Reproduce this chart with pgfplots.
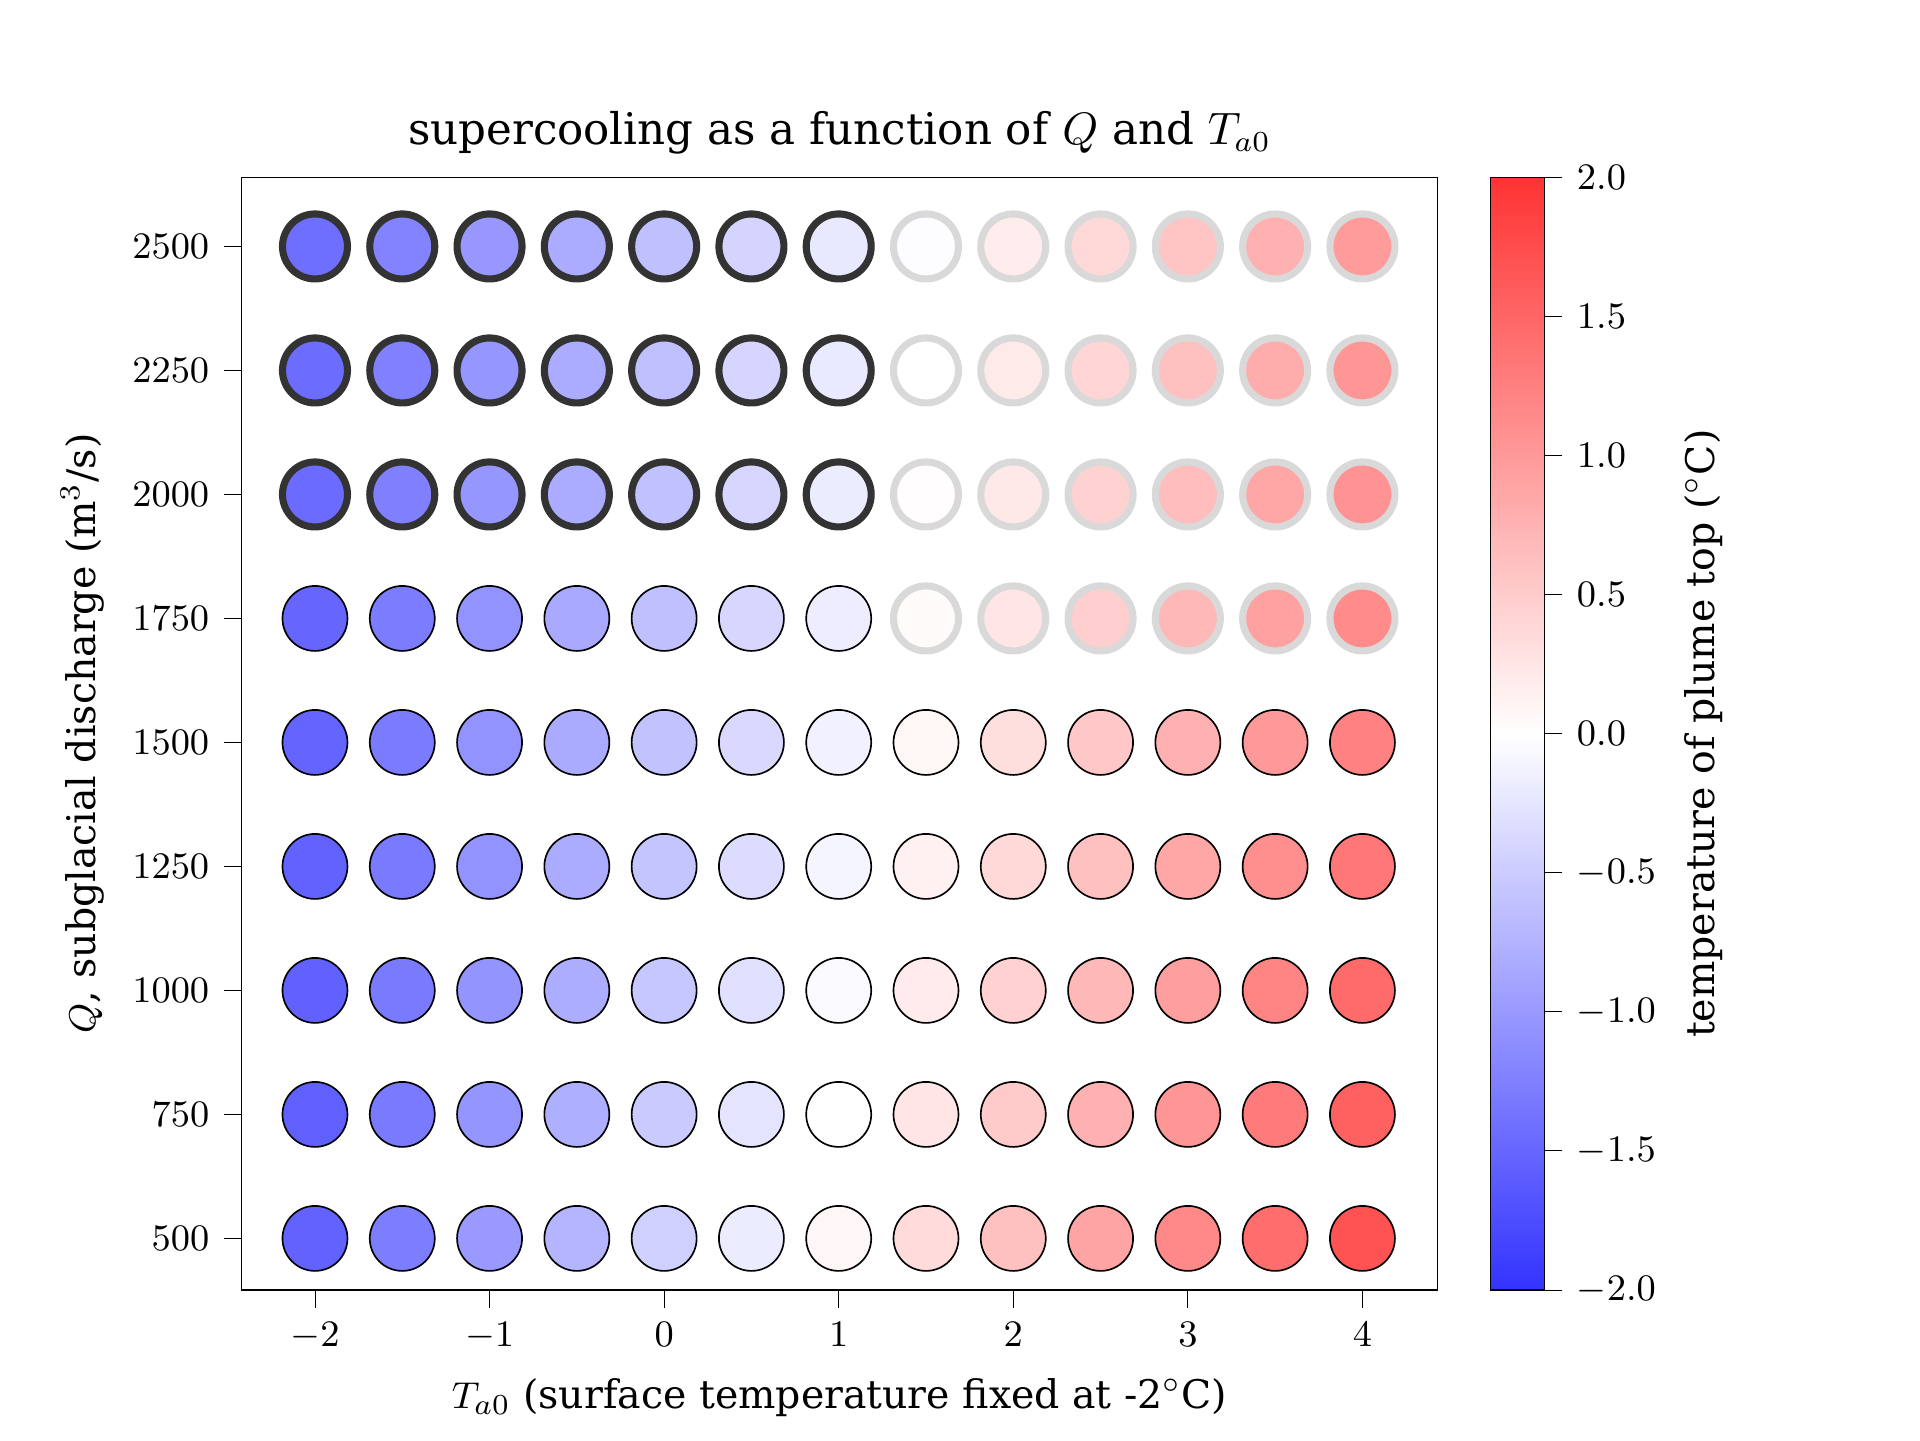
\documentclass[border=0pt]{standalone}
\usepackage{fontspec}
\setmainfont{DejaVu Serif}
\usepackage{pgfplots}
\pgfplotsset{compat=1.18}
\usepackage{pgfplotstable}
\pgfplotstableread{
x y v
-2 500 -1.54
-1.5 500 -1.27
-1 500 -1.00
-0.5 500 -0.73
0 500 -0.46
0.5 500 -0.19
1 500 0.08
1.5 500 0.35
2 500 0.62
2.5 500 0.89
3 500 1.16
3.5 500 1.43
4 500 1.70
-2 750 -1.56
-1.5 750 -1.30
-1 750 -1.04
-0.5 750 -0.78
0 750 -0.52
0.5 750 -0.26
1 750 0.00
1.5 750 0.26
2 750 0.52
2.5 750 0.78
3 750 1.04
3.5 750 1.30
4 750 1.56
-2 1000 -1.55
-1.5 1000 -1.30
-1 1000 -1.05
-0.5 1000 -0.80
0 1000 -0.55
0.5 1000 -0.30
1 1000 -0.05
1.5 1000 0.20
2 1000 0.45
2.5 1000 0.70
3 1000 0.95
3.5 1000 1.20
4 1000 1.45
-2 1250 -1.54
-1.5 1250 -1.30
-1 1250 -1.06
-0.5 1250 -0.82
0 1250 -0.58
0.5 1250 -0.34
1 1250 -0.10
1.5 1250 0.14
2 1250 0.38
2.5 1250 0.62
3 1250 0.86
3.5 1250 1.10
4 1250 1.34
-2 1500 -1.52
-1.5 1500 -1.29
-1 1500 -1.06
-0.5 1500 -0.83
0 1500 -0.60
0.5 1500 -0.37
1 1500 -0.14
1.5 1500 0.09
2 1500 0.32
2.5 1500 0.55
3 1500 0.78
3.5 1500 1.01
4 1500 1.24
-2 1750 -1.50
-1.5 1750 -1.28
-1 1750 -1.06
-0.5 1750 -0.84
0 1750 -0.62
0.5 1750 -0.40
1 1750 -0.18
}\plain
\pgfplotstableread{
x y v
-2 2000 -1.45
-1.5 2000 -1.24
-1 2000 -1.03
-0.5 2000 -0.82
0 2000 -0.61
0.5 2000 -0.40
1 2000 -0.19
-2 2250 -1.44
-1.5 2250 -1.23
-1 2250 -1.03
-0.5 2250 -0.82
0 2250 -0.62
0.5 2250 -0.41
1 2250 -0.21
-2 2500 -1.42
-1.5 2500 -1.22
-1 2500 -1.02
-0.5 2500 -0.82
0 2500 -0.62
0.5 2500 -0.42
1 2500 -0.22
}\dark
\pgfplotstableread{
x y v
1.5 1750 0.04
2 1750 0.26
2.5 1750 0.48
3 1750 0.70
3.5 1750 0.92
4 1750 1.14
1.5 2000 0.02
2 2000 0.23
2.5 2000 0.44
3 2000 0.65
3.5 2000 0.86
4 2000 1.07
1.5 2250 0.00
2 2250 0.21
2.5 2250 0.41
3 2250 0.62
3.5 2250 0.82
4 2250 1.03
1.5 2500 -0.02
2 2500 0.18
2.5 2500 0.38
3 2500 0.58
3.5 2500 0.78
4 2500 0.98
}\light
\begin{document}
\begin{tikzpicture}
\path (-58bp,-36bp) rectangle (402.8bp,309.6bp);
\begin{axis}[
  at={(0,0)}, anchor=south west,
  scale only axis, width=287bp, height=267bp,
  xmin=-2.42, xmax=4.43, ymin=396, ymax=2639,
  xtick={-2,-1,0,1,2,3,4},
  ytick={500,750,1000,1250,1500,1750,2000,2250,2500},
  yticklabel style={/pgf/number format/1000 sep={}},
  tick align=outside, tick style={black},
  xtick pos=bottom, ytick pos=left,
  tick label style={font=\fontsize{9.5}{11}\selectfont},
  label style={font=\fontsize{9.5}{11}\selectfont},
  title style={font=\fontsize{10.5}{12}\selectfont, yshift=-4bp},
  title={supercooling as a function of $Q$ and $T_{a0}$},
  xlabel={$T_{a0}$ (surface temperature fixed at -2$^\circ$C)},
  ylabel={$Q$, subglacial discharge (m$^3$/s)},
  colormap={bwra}{rgb=(0.2,0.2,1) rgb=(1,1,1) rgb=(1,0.2,0.2)},
  point meta min=-2, point meta max=2,
  colorbar right,
  colorbar style={width=13bp, xshift=4bp, ytick={-2,-1.5,...,2},
    tick align=outside, ytick pos=right,
    yticklabel style={/pgf/number format/.cd,fixed,fixed zerofill,precision=1},
    ylabel={temperature of plume top ($^\circ$C)},
    ylabel style={font=\fontsize{9.5}{11}\selectfont},
    tick label style={font=\fontsize{9.5}{11}\selectfont}},
]
\addplot[scatter, only marks, mark=*, mark size=7.8bp, scatter src=explicit,
  mark options={draw=none},
  scatter/use mapped color={draw=none, fill=mapped color}] table[meta=v] {\plain};
\addplot[scatter, only marks, mark=*, mark size=7.8bp, scatter src=explicit,
  scatter/use mapped color={draw=black!80, line width=1.7bp, fill=mapped color}] table[meta=v] {\dark};
\addplot[scatter, only marks, mark=*, mark size=7.8bp, scatter src=explicit,
  scatter/use mapped color={draw=black!15, line width=1.7bp, fill=mapped color}] table[meta=v] {\light};
\end{axis}
\end{tikzpicture}
\end{document}
